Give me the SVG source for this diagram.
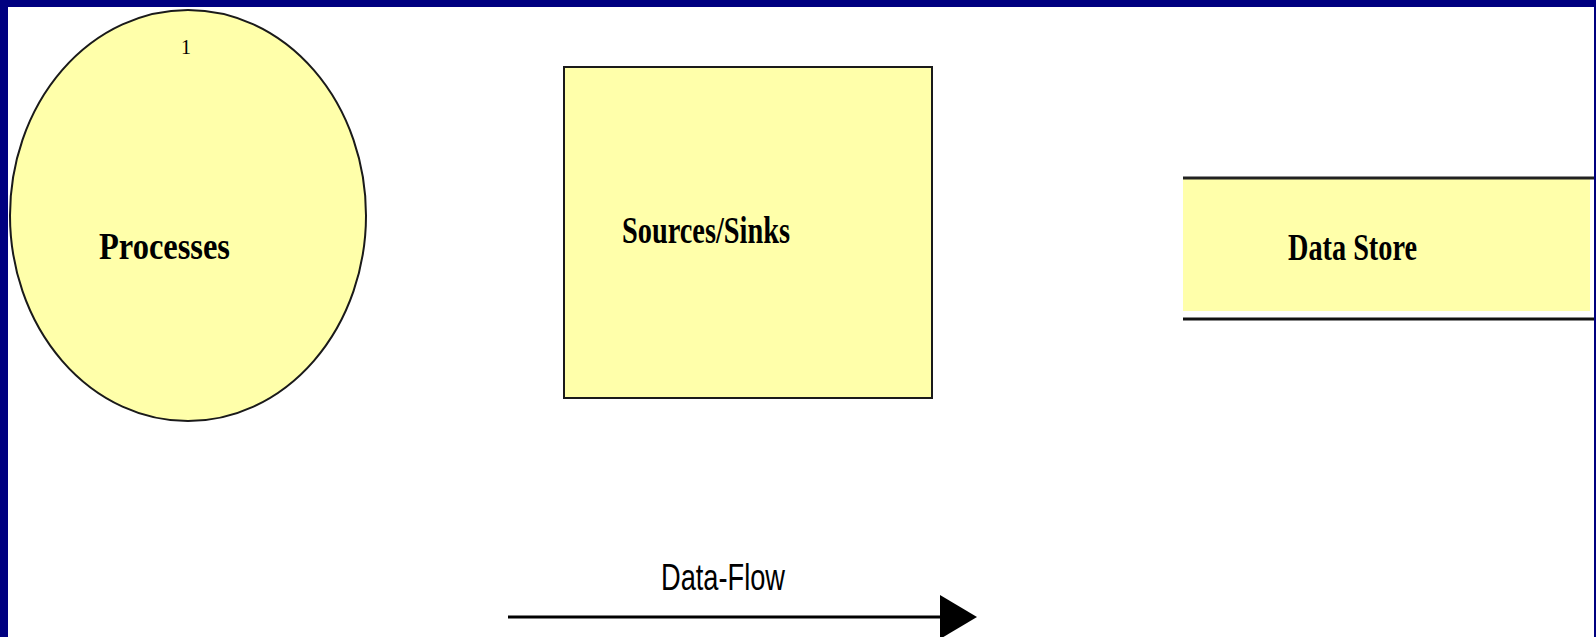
<svg xmlns="http://www.w3.org/2000/svg" width="1596" height="637" viewBox="0 0 1596 637">
<style>
.shape{fill:#FFFFAA;stroke:#1a1a1a;stroke-width:2}
.lbl{font-family:"Liberation Serif",serif;font-weight:bold;font-size:38px;fill:#000}
.flow{font-family:"Liberation Sans",sans-serif;font-size:36px;fill:#000}
</style>
<rect x="0" y="0" width="1596" height="637" fill="#000080"/>
<rect x="8" y="7" width="1586" height="630" fill="#FFFFFF"/>
<g id="process">
<ellipse class="shape" cx="188" cy="215.5" rx="178" ry="205.5"/>
<text x="186" y="54" font-family="Liberation Serif,serif" font-size="20" text-anchor="middle">1</text>
<text class="lbl" x="99" y="259" textLength="131" lengthAdjust="spacingAndGlyphs">Processes</text>
</g>
<g id="sources-sinks">
<rect class="shape" x="564" y="67" width="368" height="331"/>
<text class="lbl" x="622" y="243" textLength="168" lengthAdjust="spacingAndGlyphs">Sources/Sinks</text>
</g>
<g id="data-store">
<rect x="1183" y="179" width="407" height="132" fill="#FFFFAA"/>
<line x1="1183" y1="178" x2="1594" y2="178" stroke="#222" stroke-width="3"/>
<line x1="1183" y1="319" x2="1594" y2="319" stroke="#111" stroke-width="3"/>
<text class="lbl" x="1288" y="260" textLength="129" lengthAdjust="spacingAndGlyphs">Data Store</text>
</g>
<g id="connectors">
<line x1="508" y1="617" x2="942" y2="617" stroke="#000" stroke-width="3"/>
<polygon points="940,595 977,617 940,639" fill="#000"/>
<text class="flow" x="661" y="590" textLength="124" lengthAdjust="spacingAndGlyphs">Data-Flow</text>
</g>
</svg>
